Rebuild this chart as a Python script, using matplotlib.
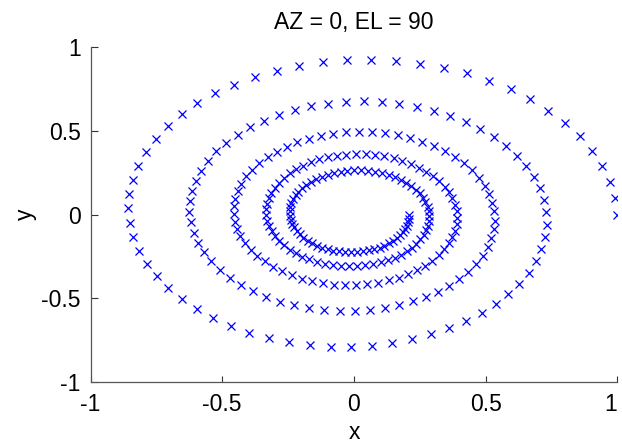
import matplotlib
matplotlib.use("Agg")
import matplotlib.pyplot as plt

# Spiral marker positions, one list per turn
x_turn1 = [1.000, .990, .970, .941, .903, .856, .801, .738, .669, .594, .514, .429, .341, .251, .159, .066,
           -.027, -.118, -.208, -.294, -.376, -.454, -.527, -.594, -.654, -.707, -.752, -.790, -.819, -.840,
           -.852, -.856, -.851, -.837, -.816, -.786, -.749, -.705, -.654, -.597, -.535, -.468, -.397, -.323,
           -.247, -.168, -.089, -.010, .069, .146, .221, .293, .361, .425, .485, .538, .586, .628, .663, .691,
           .711, .725, .731]
y_turn1 = [0.000, .099, .197, .291, .382, .468, .548, .622, .689, .749, .800, .844, .878, .903, .919, .925,
           .923, .911, .890, .861, .823, .777, .724, .665, .599, .528, .453, .373, .291, .207, .121, .036,
           -.050, -.134, -.216, -.294, -.370, -.440, -.506, -.566, -.620, -.667, -.707, -.739, -.764, -.781,
           -.790, -.791, -.784, -.769, -.747, -.717, -.681, -.639, -.590, -.536, -.477, -.414, -.348, -.278,
           -.207, -.134, -.061]

x_turn2 = [.730, .721, .706, .683, .654, .619, .578, .531, .480, .424, .365, .303, .238, .172, .105, .037,
           -.031, -.097, -.163, -.225, -.285, -.341, -.394, -.442, -.485, -.522, -.554, -.581, -.601, -.616,
           -.623, -.625, -.620, -.609, -.593, -.570, -.542, -.509, -.471, -.429, -.383, -.333, -.281, -.227,
           -.171, -.113, -.055, .002, .060, .116, .171, .223, .272, .318, .361, .399, .434, .463, .488, .508,
           .521, .531, .534]
y_turn2 = [.012, .084, .156, .224, .290, .352, .410, .463, .511, .554, .590, .621, .645, .662, .673, .676,
           .673, .663, .647, .625, .596, .561, .522, .478, .429, .377, .321, .263, .202, .141, .078, .016,
           -.047, -.108, -.168, -.224, -.279, -.330, -.377, -.420, -.459, -.493, -.521, -.543, -.561, -.572,
           -.578, -.577, -.571, -.559, -.542, -.520, -.493, -.461, -.425, -.385, -.341, -.294, -.246, -.194,
           -.142, -.089, -.036]

x_turn3 = [.533, .525, .513, .496, .474, .448, .417, .382, .344, .303, .259, .213, .166, .118, .068, .019,
           -.031, -.079, -.127, -.172, -.215, -.256, -.294, -.328, -.359, -.386, -.409, -.427, -.441, -.451,
           -.456, -.457, -.452, -.443, -.431, -.413, -.392, -.368, -.339, -.308, -.274, -.237, -.199, -.159,
           -.118, -.076, -.033, .009, .051, .092, .131, .169, .205, .238, .269, .296, .321, .342, .359, .373,
           .382, .389, .390]
y_turn3 = [.018, .070, .122, .172, .220, .265, .306, .345, .379, .410, .435, .457, .474, .485, .492, .494,
           .491, .483, .470, .453, .432, .406, .376, .344, .307, .269, .228, .185, .140, .095, .049, .004,
           -.042, -.086, -.130, -.171, -.210, -.247, -.281, -.312, -.340, -.364, -.384, -.399, -.411, -.419,
           -.422, -.422, -.416, -.407, -.394, -.377, -.356, -.333, -.306, -.276, -.244, -.209, -.173, -.136,
           -.098, -.058, -.019]

x_turn4 = [.389, .383, .373, .360, .344, .324, .301, .275, .247, .216, .184, .150, .115, .080, .044, .008,
           -.029, -.064, -.098, -.131, -.162, -.192, -.219, -.244, -.266, -.285, -.301, -.314, -.324, -.331,
           -.334, -.333, -.330, -.323, -.313, -.300, -.284, -.265, -.244, -.221, -.196, -.169, -.140, -.111,
           -.081, -.050, -.019, .012, .042, .072, .101, .128, .154, .178, .200, .220, .237, .252, .265, .274,
           .280, .284, .285]
y_turn4 = [.020, .058, .096, .132, .166, .199, .229, .256, .281, .303, .321, .337, .348, .356, .360, .361,
           .358, .352, .342, .329, .313, .293, .271, .247, .220, .191, .161, .130, .097, .064, .030, -.003,
           -.036, -.069, -.100, -.130, -.159, -.185, -.210, -.232, -.252, -.269, -.283, -.294, -.302, -.307,
           -.309, -.308, -.303, -.296, -.286, -.273, -.258, -.240, -.220, -.198, -.174, -.149, -.122, -.095,
           -.067, -.038, -.009]

x_turn5 = [.284, .279, .271, .261, .249, .234, .217, .198, .177, .154, .131, .106, .080, .054, .028, .001,
           -.025, -.051, -.076, -.100, -.122, -.144, -.163, -.181, -.197, -.211, -.222, -.231, -.238, -.242,
           -.244, -.244, -.240, -.235, -.227, -.217, -.205, -.192, -.176, -.159, -.140, -.120, -.099, -.078,
           -.056, -.033, -.010, .012, .035, .056, .077, .097, .115, .133, .149, .163, .175, .186, .195, .201,
           .206, .208, .209]
y_turn5 = [.019, .047, .074, .101, .126, .149, .171, .191, .208, .224, .237, .248, .256, .261, .264, .264,
           .261, .256, .249, .239, .226, .212, .195, .177, .157, .136, .114, .091, .067, .043, .018, -.006,
           -.030, -.054, -.077, -.098, -.119, -.138, -.156, -.172, -.186, -.198, -.208, -.216, -.221, -.225,
           -.226, -.225, -.221, -.215, -.208, -.198, -.186, -.173, -.158, -.142, -.124, -.105, -.086, -.066,
           -.045, -.024, -.003]

x_ticks = [-1, -0.5, 0, 0.5, 1]
y_ticks = [-1, -0.5, 0, 0.5, 1]
x_tick_labels = ["-1", "-0.5", "0", "0.5", "1"]
y_tick_labels = ["-1", "-0.5", "0", "0.5", "1"]
title_text = "AZ = 0, EL = 90"

xs = x_turn1 + x_turn2 + x_turn3 + x_turn4 + x_turn5
ys = y_turn1 + y_turn2 + y_turn3 + y_turn4 + y_turn5

plt.rcParams['font.family'] = ['Liberation Sans', 'DejaVu Sans']
FS = 16.5

fig = plt.figure(figsize=(6.22, 4.46), dpi=100)
ax = fig.add_axes([90.5 / 622, 1 - 381.7 / 446, (617.5 - 90.5) / 622, (381.7 - 47.3) / 446])

ax.plot(xs, ys, linestyle='none', marker='x', color='#0000ff',
        markersize=6, markeredgewidth=0.9)

ax.set_xlim(-1, 1)
ax.set_ylim(-1, 1)
ax.set_xticks(x_ticks)
ax.set_xticklabels(x_tick_labels)
ax.set_yticks(y_ticks)
ax.set_yticklabels(y_tick_labels)
# last x tick label sits just inside the figure edge, as in the reference
ax.get_xticklabels()[-1].set_horizontalalignment('right')

for s in ['top', 'right']:
    ax.spines[s].set_visible(False)
for s in ['left', 'bottom']:
    ax.spines[s].set_color('#555555')
    ax.spines[s].set_linewidth(0.9)

ax.tick_params(axis='x', direction='in', length=4, width=0.8, color='#333333',
               labelsize=FS, pad=8)
ax.tick_params(axis='y', direction='in', length=5, width=0.8, color='#333333',
               labelsize=FS, pad=7)

ax.set_title(title_text, fontsize=FS, pad=13)
ax.set_xlabel("x", fontsize=FS, labelpad=3.5)
ax.set_ylabel("y", fontsize=FS, labelpad=3)

fig.savefig("out.png", dpi=100)
